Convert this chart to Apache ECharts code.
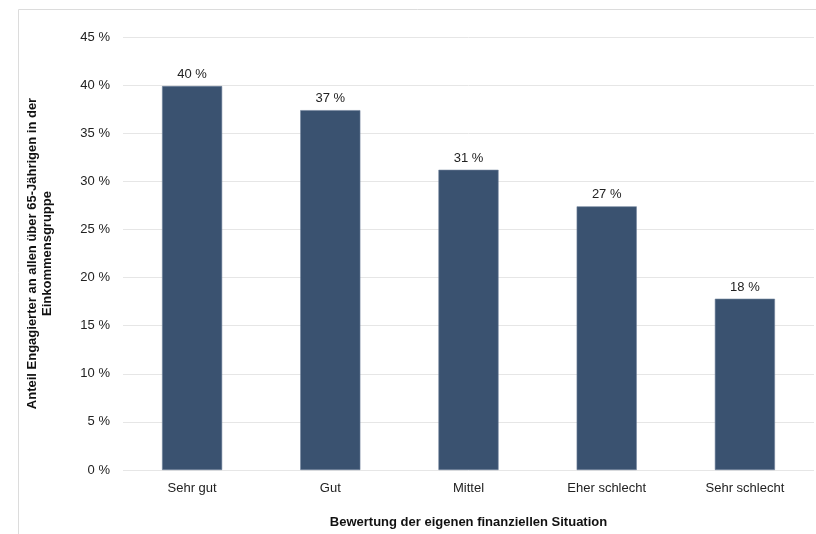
<!DOCTYPE html>
<html><head><meta charset="utf-8">
<script src="https://cdn.jsdelivr.net/npm/echarts@6/dist/echarts.min.js"></script>
<style>html,body{margin:0;padding:0;background:#fff}#c{width:816px;height:534px}</style>
</head><body><div id="c"></div>
<script>
const categories = ['Sehr gut', 'Gut', 'Mittel', 'Eher schlecht', 'Sehr schlecht'];
const values = [39.9, 37.4, 31.2, 27.4, 17.8];
const yAxisTitle = 'Anteil Engagierter an allen über 65-Jährigen in der\nEinkommensgruppe';
const xAxisTitle = 'Bewertung der eigenen finanziellen Situation';

const chart = echarts.init(document.getElementById('c'), null, {renderer: 'canvas'});
const font = 'Liberation Sans, Arial, sans-serif';
chart.setOption({
  animation: false,
  textStyle: {fontFamily: font},
  graphic: [{type: 'rect', shape: {x: 18.5, y: 9.5, width: 820, height: 600}, style: {fill: 'none', stroke: '#dcdcdc', lineWidth: 1}, silent: true}],
  grid: {left: 123, right: 2, top: 37, bottom: 64},
  xAxis: {
    type: 'category', data: categories,
    axisLine: {show: false}, axisTick: {show: false},
    axisLabel: {color: '#222', fontSize: 13, margin: 12, fontFamily: font},
    name: xAxisTitle, nameLocation: 'middle', nameGap: 46,
    nameTextStyle: {fontWeight: 'bold', fontSize: 13, color: '#111', fontFamily: font}
  },
  yAxis: {
    type: 'value', min: 0, max: 45, interval: 5,
    axisLabel: {formatter: v => v + ' %', color: '#222', fontSize: 13, margin: 13, fontFamily: font},
    splitLine: {lineStyle: {color: '#e6e6e6', width: 1}},
    axisLine: {show: false}, axisTick: {show: false},
    name: yAxisTitle, nameLocation: 'middle', nameGap: 68, nameRotate: 90,
    nameTextStyle: {fontWeight: 'bold', fontSize: 13, color: '#111', lineHeight: 15, fontFamily: font}
  },
  series: [{
    type: 'bar', data: values, barWidth: '43.5%',
    itemStyle: {color: '#3a5270', borderColor: '#6f829a', borderWidth: 0.6},
    label: {show: true, position: 'top', distance: 5, formatter: p => Math.round(p.value) + ' %', color: '#222', fontSize: 13, fontFamily: font}
  }]
});
</script></body></html>
